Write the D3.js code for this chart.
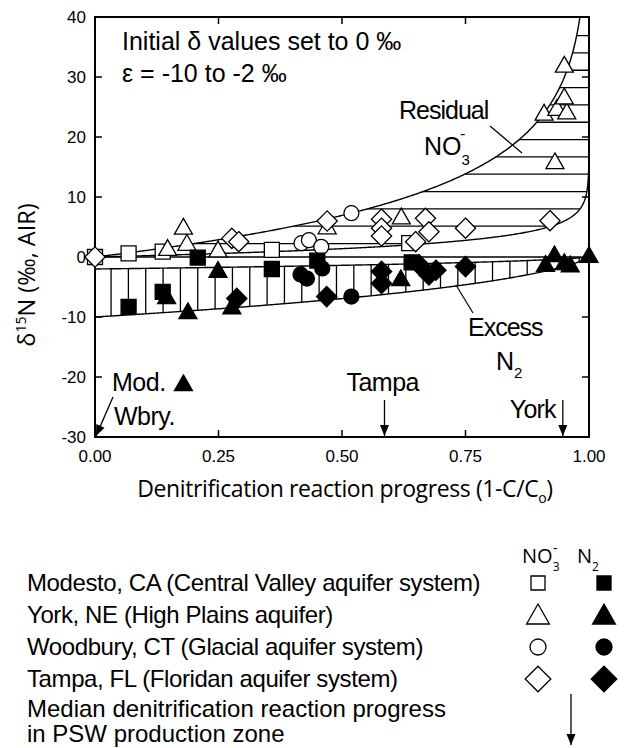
<!DOCTYPE html>
<html><head><meta charset="utf-8">
<script src="https://cdn.jsdelivr.net/npm/d3@7"></script>
<style>body{margin:0;background:#fff}svg{display:block}</style>
</head><body><svg id="c" width="626" height="748"></svg>
<script>
// ---------- data ----------
const xTicks = [0, 0.25, 0.5, 0.75, 1];
const xTickLabels = ["0.00", "0.25", "0.50", "0.75", "1.00"];
const yTicks = [-30, -20, -10, 0, 10, 20, 30, 40];
const epsilonValues = [-10, -2];

const modestoNO3 = [[0,0],[0.068,0.6],[0.137,0.9],[0.358,1.2],[0.636,2.3]];
const modestoN2 = [[0.068,-8.3],[0.137,-5.8],[0.208,-0.1],[0.358,-2.0],[0.45,-0.6],[0.641,-0.9]];
const yorkNO3 = [[0.147,1.45],[0.179,5.0],[0.186,2.3],[0.249,1.2],[0.47,5.05],[0.62,6.7],
                 [0.909,24.0],[0.935,24.8],[0.955,24.2],[0.95,26.7],[0.95,32.0],[0.931,15.9]];
const yorkN2 = [[0.145,-6.6],[0.179,-21.1],[0.188,-9.1],[0.249,-2.2],[0.277,-8.3],[0.619,-3.6],
                [0.912,-1.2],[0.93,0.4],[0.95,-0.9],[0.962,-1.3],[1.0,0.3]];
const woodburyNO3 = [[0.418,2.3],[0.433,2.8],[0.458,1.7],[0.519,7.3]];
const woodburyN2 = [[0.416,-2.9],[0.429,-3.6],[0.46,-1.9],[0.519,-6.6]];
const tampaNO3 = [[0,0],[0.277,3.1],[0.291,2.55],[0.47,6.0],[0.58,6.3],[0.58,4.8],[0.58,3.5],
                  [0.649,2.55],[0.669,6.45],[0.676,4.2],[0.75,4.8],[0.921,6.05]];
const tampaN2 = [[0.287,-6.9],[0.469,-6.6],[0.58,-2.4],[0.58,-4.4],[0.656,-1.3],[0.676,-3.0],[0.69,-2.2],[0.75,-1.6]];

const legendSites = ["Modesto, CA (Central Valley aquifer system)","York, NE (High Plains aquifer)",
  "Woodbury, CT (Glacial aquifer system)","Tampa, FL (Floridan aquifer system)"];
const legendShapes = ["square","triangle","circle","diamond"];
const medianArrows = [{label:"Tampa", x:0.586},{label:"York", x:0.947}];

// ---------- layout ----------
const svg = d3.select("#c");
const L = 95, R = 589, T = 17, B = 437;
const x = d3.scaleLinear().domain([0,1]).range([L,R]);
const y = d3.scaleLinear().domain([-30,40]).range([B,T]);
const sans = "'Liberation Sans', Arial, Helvetica, sans-serif";
const myriad = "'Open Sans', 'Liberation Sans', sans-serif";

const defs = svg.append("defs");
defs.append("clipPath").attr("id","plotclip").append("rect")
  .attr("x",L).attr("y",T).attr("width",R-L).attr("height",B-T);

// model curves (Rayleigh)
function residual(eps, p){ return eps*Math.log(1-p); }
function product(eps, p){ const f=1-p; return -eps*f*Math.log(f)/(1-f); }
const pts = [];
for (let i=0;i<=400;i++) pts.push(i/400*0.98);
for (let k=1;k<=200;k++) pts.push(0.98 + 0.02*(1-Math.pow(10,-k/20)));
pts.sort((a,b)=>a-b);
const prodPts = [1e-6].concat(d3.range(1,400).map(i=>i/400)).concat([1-1e-6]);

const [e10,e2] = epsilonValues;
const line = d3.line().x(d=>x(d[0])).y(d=>y(d[1]));
const resHi = pts.map(p=>[p, residual(e10,p)]);
const resLo = pts.map(p=>[p, residual(e2,p)]);
const prodLo = prodPts.map(p=>[p, product(e10,p)]);
const prodHi = prodPts.map(p=>[p, product(e2,p)]);

const bandArea = d3.area().x(d=>x(d[0])).y0(d=>y(Math.max(-30,Math.min(60,d[2])))).y1(d=>y(Math.max(-30,Math.min(60,d[1]))));
defs.append("clipPath").attr("id","resclip").append("path")
  .attr("d", bandArea(pts.map(p=>[p, residual(e10,p), residual(e2,p)])));
defs.append("clipPath").attr("id","prodclip").append("path")
  .attr("d", bandArea(prodPts.map(p=>[p, product(e2,p), product(e10,p)])));

const plot = svg.append("g").attr("clip-path","url(#plotclip)");
const hLevels = d3.range(0,13).map(k=>36.9 - k*2.888);
plot.append("g").attr("clip-path","url(#resclip)").selectAll("line").data(hLevels).join("line")
  .attr("x1",L).attr("x2",R).attr("y1",d=>y(d)).attr("y2",d=>y(d))
  .attr("stroke","#000").attr("stroke-width",1.3);
const vLevels = d3.range(0,28).map(k=>0.0325 + k*0.0351);
plot.append("g").attr("clip-path","url(#prodclip)").selectAll("line").data(vLevels).join("line")
  .attr("x1",d=>x(d)).attr("x2",d=>x(d)).attr("y1",y(0.5)).attr("y2",y(-11))
  .attr("stroke","#000").attr("stroke-width",1.3);

plot.append("line").attr("x1",x(0)).attr("x2",x(0.985)).attr("y1",y(0)).attr("y2",y(0))
  .attr("stroke","#000").attr("stroke-width",1.3);
[resHi,resLo,prodLo,prodHi].forEach(d=>{
  plot.append("path").attr("d",line(d.filter(p=>p[1]<70))).attr("fill","none")
    .attr("stroke","#000").attr("stroke-width",1.4);
});

// ---------- axes ----------
const axG = svg.append("g");
axG.append("rect").attr("x",L).attr("y",T).attr("width",R-L).attr("height",B-T)
  .attr("fill","none").attr("stroke","#000").attr("stroke-width",2);
const tl = 7;
axG.selectAll(".xb").data(xTicks.slice(1,-1)).join("line").attr("class","xb")
  .attr("x1",d=>x(d)).attr("x2",d=>x(d)).attr("y1",B).attr("y2",B-tl).attr("stroke","#000").attr("stroke-width",1.5);
axG.selectAll(".xt").data(xTicks.slice(1,-1)).join("line").attr("class","xt")
  .attr("x1",d=>x(d)).attr("x2",d=>x(d)).attr("y1",T).attr("y2",T+tl).attr("stroke","#000").attr("stroke-width",1.5);
axG.selectAll(".yl").data(yTicks.slice(1,-1)).join("line").attr("class","yl")
  .attr("x1",L).attr("x2",L+tl).attr("y1",d=>y(d)).attr("y2",d=>y(d)).attr("stroke","#000").attr("stroke-width",1.5);
axG.selectAll(".yr").data(yTicks.slice(1,-1)).join("line").attr("class","yr")
  .attr("x1",R).attr("x2",R-tl).attr("y1",d=>y(d)).attr("y2",d=>y(d)).attr("stroke","#000").attr("stroke-width",1.5);
axG.selectAll(".xlab").data(xTicks).join("text").attr("class","xlab")
  .attr("x",d=>x(d)).attr("y",B+25).attr("text-anchor","middle")
  .attr("font-family",sans).attr("font-size",17).text((d,i)=>xTickLabels[i]);
axG.selectAll(".ylab").data(yTicks).join("text").attr("class","ylab")
  .attr("x",L-9).attr("y",d=>y(d)+6).attr("text-anchor","end")
  .attr("font-family",sans).attr("font-size",17).text(d=>d);

// axis titles
const yt = svg.append("text").attr("transform","translate(35,275) rotate(-90)")
  .attr("text-anchor","middle").attr("font-family",myriad).attr("font-size",23.5);
yt.append("tspan").text("δ");
yt.append("tspan").attr("font-size",14).attr("dy",-9).text("15");
yt.append("tspan").attr("dy",9).text("N (‰, AIR)");
const xt = svg.append("text").attr("x",345).attr("y",497).attr("text-anchor","middle")
  .attr("font-family",myriad).attr("font-size",23).attr("letter-spacing",-0.4);
xt.append("tspan").text("Denitrification reaction progress (1-C/C");
xt.append("tspan").attr("font-size",14).attr("dy",6).text("o");
xt.append("tspan").attr("dy",-6).text(")");

// ---------- markers ----------
function shapePath(shape, s){
  switch(shape){
    case "square": return `M${-s},${-s}h${2*s}v${2*s}h${-2*s}Z`;
    case "triangle": { const w=s*1.2, h=s*2.1; return `M0,${-h*0.55}L${w},${h*0.45}L${-w},${h*0.45}Z`; }
    case "circle": return `M${s},0A${s},${s} 0 1,1 ${-s},0A${s},${s} 0 1,1 ${s},0Z`;
    case "diamond": { const d=s*1.35; return `M0,${-d}L${d},0L0,${d}L${-d},0Z`; }
  }
}
const series = [
  {data:modestoNO3, shape:"square", filled:false},
  {data:yorkNO3, shape:"triangle", filled:false},
  {data:woodburyNO3, shape:"circle", filled:false},
  {data:tampaNO3, shape:"diamond", filled:false},
  {data:modestoN2, shape:"square", filled:true},
  {data:yorkN2, shape:"triangle", filled:true},
  {data:woodburyN2, shape:"circle", filled:true},
  {data:tampaN2, shape:"diamond", filled:true},
];
const mk = svg.append("g");
series.forEach(s=>{
  mk.append("g").selectAll("path").data(s.data).join("path")
    .attr("transform",d=>`translate(${x(d[0])},${y(d[1])})`)
    .attr("d",shapePath(s.shape,7.5))
    .attr("fill",s.filled?"#000":"#fff").attr("stroke","#000").attr("stroke-width",1.3);
});

// ---------- annotations ----------
const ann = svg.append("g").attr("font-family",sans).attr("font-size",25);
ann.append("text").attr("x",122).attr("y",50).text("Initial δ values set to 0 ‰");
ann.append("text").attr("x",122).attr("y",82).text("ε = -10 to -2 ‰");
ann.append("text").attr("x",399).attr("y",119).attr("letter-spacing",-1).text("Residual");
const no3 = ann.append("text").attr("x",424).attr("y",155);
no3.append("tspan").text("NO");
no3.append("tspan").attr("font-size",15).attr("dy",10).text("3");
ann.append("text").attr("x",460).attr("y",139).attr("font-size",16).text("-");
ann.append("line").attr("x1",490).attr("y1",126).attr("x2",522).attr("y2",153).attr("stroke","#000").attr("stroke-width",1.2);
ann.append("text").attr("x",468).attr("y",336).attr("letter-spacing",-1).text("Excess");
const n2 = ann.append("text").attr("x",496).attr("y",370);
n2.append("tspan").text("N");
n2.append("tspan").attr("font-size",15).attr("dy",8).text("2");
ann.append("line").attr("x1",456).attr("y1",285).attr("x2",473).attr("y2",313).attr("stroke","#000").attr("stroke-width",1.2);

ann.append("text").attr("x",112).attr("y",391).attr("letter-spacing",-0.5).text("Mod.");
ann.append("text").attr("x",114).attr("y",425).attr("letter-spacing",-0.5).text("Wbry.");

function arrow(g, x1,y1,x2,y2){
  g.append("line").attr("x1",x1).attr("y1",y1).attr("x2",x2).attr("y2",y2)
    .attr("stroke","#000").attr("stroke-width",1.3);
  const a = Math.atan2(y2-y1,x2-x1), len=11, w=4.5;
  const bx = x2-len*Math.cos(a), by=y2-len*Math.sin(a);
  const px=-Math.sin(a)*w, py=Math.cos(a)*w;
  g.append("path").attr("d",`M${x2},${y2}L${bx+px},${by+py}L${bx-px},${by-py}Z`).attr("fill","#000");
}
arrow(ann, 113, 397, x(0)+1, B-1);
medianArrows.forEach(m=>{
  arrow(ann, x(m.x), 400, x(m.x), B-1);
});
ann.append("text").attr("x",x(medianArrows[0].x)-38).attr("y",391).attr("letter-spacing",-0.5).text("Tampa");
ann.append("text").attr("x",x(medianArrows[1].x)-53).attr("y",418).attr("letter-spacing",-0.8).text("York");

// ---------- legend ----------
const lg = svg.append("g");
const rowY = d3.scaleLinear().domain([0,3]).range([583,679]);
lg.selectAll("text.site").data(legendSites).join("text").attr("class","site")
  .attr("x",27).attr("y",(d,i)=>rowY(i)+8).attr("font-family",sans).attr("font-size",24)
  .attr("letter-spacing",-0.4).text(d=>d);
const legendSize = {square:7, triangle:9.5, circle:8, diamond:9.5};
legendShapes.forEach((sh,i)=>{
  lg.append("path").attr("transform",`translate(538,${rowY(i)})`).attr("d",shapePath(sh,legendSize[sh]))
    .attr("fill","#fff").attr("stroke","#000").attr("stroke-width",1.3);
  lg.append("path").attr("transform",`translate(604,${rowY(i)})`).attr("d",shapePath(sh,legendSize[sh]))
    .attr("fill","#000").attr("stroke","#000").attr("stroke-width",1.3);
});
const hNO3 = lg.append("text").attr("x",522).attr("y",563).attr("font-family",myriad).attr("font-size",20);
hNO3.append("tspan").text("NO");
hNO3.append("tspan").attr("font-size",12).attr("dy",8).text("3");
lg.append("text").attr("x",553).attr("y",553).attr("font-family",myriad).attr("font-size",14).text("-");
const hN2 = lg.append("text").attr("x",577).attr("y",563).attr("font-family",myriad).attr("font-size",20);
hN2.append("tspan").text("N");
hN2.append("tspan").attr("font-size",12).attr("dy",8).text("2");

lg.append("text").attr("x",27).attr("y",717).attr("font-family",sans).attr("font-size",24).text("Median denitrification reaction progress");
lg.append("text").attr("x",27).attr("y",742).attr("font-family",sans).attr("font-size",24).text("in PSW production zone");
arrow(lg, 571, 694, 571, 745);
</script></body></html>
